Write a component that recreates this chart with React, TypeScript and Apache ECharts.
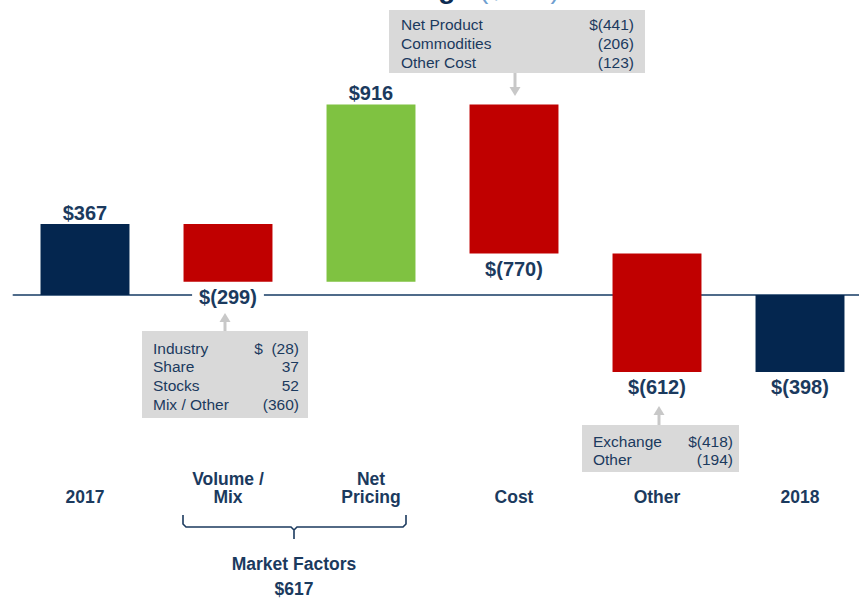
import React, { useEffect, useRef } from "react";
import * as echarts from "echarts";

// ---------- data ----------
const categories = ["2017", "Volume /\nMix", "Net\nPricing", "Cost", "Other", "2018"];
const values = [367, -299, 916, -770, -612, -398];
const kinds = ["total", "delta", "delta", "delta", "delta", "total"];
const barColors = ["#04264f", "#c00000", "#7fc241", "#c00000", "#c00000", "#04264f"];

const costItems = ["Net Product", "Commodities", "Other Cost"];
const costValues = [-441, -206, -123];

const volumeItems = ["Industry", "Share", "Stocks", "Mix / Other"];
const volumeValues = [-28, 37, 52, -360];

const otherItems = ["Exchange", "Other"];
const otherValues = [-418, -194];

const groupLabel = "Market Factors";
const groupValue = 617;

const titleMain = "EBIT Bridge";
const titleUnit = "($MM)";

// ---------- helpers ----------
const NAVY = "#1b3a5e";
const FONT = '"Liberation Sans", Arial, sans-serif';

const money = (v: number) => (v < 0 ? `$(${Math.abs(v)})` : `$${v}`);
const plain = (v: number) => (v < 0 ? `(${Math.abs(v)})` : `${v}`);

function calloutBox(
  x: number, y: number, w: number, h: number,
  names: string[], vals: number[], firstFmt: (v: number) => string,
  lineY0: number, lineStep: number, textLeft: number, textRight: number
) {
  const children: any[] = [
    { type: "rect", shape: { x, y, width: w, height: h }, style: { fill: "#d9d9d9" } },
  ];
  names.forEach((n, i) => {
    const cy = lineY0 + i * lineStep;
    children.push({
      type: "text", x: textLeft, y: cy,
      style: { text: n, fill: NAVY, font: `15.5px ${FONT}`, align: "left", verticalAlign: "middle", textAlign: "left", textVerticalAlign: "middle" },
    });
    children.push({
      type: "text", x: textRight, y: cy,
      style: { text: i === 0 ? firstFmt(vals[i]) : plain(vals[i]), fill: NAVY, font: `15.5px ${FONT}`, align: "right", verticalAlign: "middle", textAlign: "right", textVerticalAlign: "middle" },
    });
  });
  return children;
}

function arrow(x: number, yFrom: number, yTo: number) {
  const dir = yTo > yFrom ? 1 : -1;
  const headLen = 9;
  return [
    { type: "line", shape: { x1: x, y1: yFrom, x2: x, y2: yTo - dir * headLen }, style: { stroke: "#c8c8c8", lineWidth: 3 } },
    { type: "polygon", shape: { points: [[x - 5.5, yTo - dir * headLen], [x + 5.5, yTo - dir * headLen], [x, yTo]] }, style: { fill: "#c8c8c8" } },
  ];
}

export default function App() {
  const ref = useRef<HTMLDivElement>(null);

  useEffect(() => {
    if (!ref.current) return;
    document.body.style.overflow = "hidden";
    const chart = echarts.init(ref.current, undefined, { renderer: "svg" });

    // waterfall spans
    let run = 0;
    const spans = values.map((v, i) => {
      let s: number, e: number;
      if (kinds[i] === "total") { s = 0; e = v; run = v; }
      else { s = run; e = run + v; run = e; }
      return [i, s, e, v];
    });
    const labelAbove = values.map((v) => v > 0);

    const graphic: any[] = [
      {
        type: "text", x: 471, y: -12,
        style: { text: titleMain, fill: "#0d2b52", font: `bold 28px ${FONT}`, align: "right", verticalAlign: "middle", textAlign: "right", textVerticalAlign: "middle" },
      },
      {
        type: "text", x: 479, y: -12,
        style: { text: titleUnit, fill: "#6f9fd0", font: `28px ${FONT}`, align: "left", verticalAlign: "middle", textAlign: "left", textVerticalAlign: "middle" },
      },
      ...calloutBox(389, 10, 256, 63, costItems, costValues, money, 24, 19, 401, 634),
      ...arrow(515, 73, 96),
      ...calloutBox(142, 331, 166, 87, volumeItems, volumeValues, (v) => `$  ${plain(v)}`, 348, 18.7, 153, 299),
      ...arrow(225, 331, 313),
      ...calloutBox(582, 425, 157, 47, otherItems, otherValues, money, 441, 18.5, 593, 733),
      ...arrow(659, 425, 406),
      {
        type: "polyline",
        shape: { points: [[183, 515], [183, 524], [186, 527], [291, 527], [294, 530], [294, 539], [294, 530], [297, 527], [403, 527], [406, 524], [406, 515]] },
        style: { stroke: NAVY, lineWidth: 1.6, fill: null },
      },
      {
        type: "text", x: 294, y: 564,
        style: { text: groupLabel, fill: NAVY, font: `bold 17.5px ${FONT}`, align: "center", verticalAlign: "middle", textAlign: "center", textVerticalAlign: "middle" },
      },
      {
        type: "text", x: 294, y: 589,
        style: { text: money(groupValue), fill: NAVY, font: `bold 17.5px ${FONT}`, align: "center", verticalAlign: "middle", textAlign: "center", textVerticalAlign: "middle" },
      },
    ];

    chart.setOption({
      animation: false,
      grid: { left: 13.5, top: 82, width: 858, height: 426 },
      xAxis: [
        {
          type: "category", data: categories,
          axisLine: { show: true, onZero: true, lineStyle: { color: "#4f6b8a", width: 2 } },
          axisTick: { show: false }, axisLabel: { show: false }, splitLine: { show: false },
        },
        {
          type: "category", data: categories, position: "bottom",
          axisLine: { show: false, onZero: false }, axisTick: { show: false },
          axisLabel: {
            show: true, interval: 0, margin: -2, verticalAlign: "bottom",
            color: NAVY, fontFamily: FONT, fontWeight: "bold", fontSize: 17.5, lineHeight: 18,
          },
        },
      ],
      yAxis: { type: "value", min: -1100, max: 1100, show: false, splitLine: { show: false } },
      series: [
        {
          type: "custom",
          xAxisIndex: 0,
          data: spans,
          renderItem: (params: any, api: any) => {
            const i = api.value(0);
            const a = api.coord([i, api.value(1)]);
            const b = api.coord([i, api.value(2)]);
            const w = api.size([1, 0])[0] * 0.622;
            const top = Math.min(a[1], b[1]);
            const bot = Math.max(a[1], b[1]);
            const above = labelAbove[params.dataIndex];
            return {
              type: "group",
              children: [
                { type: "rect", shape: { x: a[0] - w / 2, y: top, width: w, height: bot - top }, style: { fill: barColors[params.dataIndex] } },
                {
                  type: "text", x: a[0], y: above ? top - 1 : bot + 5,
                  style: {
                    text: money(api.value(3)), fill: NAVY,
                    fontFamily: FONT, fontSize: 20, fontWeight: "bold",
                    align: "center", verticalAlign: above ? "bottom" : "top",
                    backgroundColor: above ? undefined : "#ffffff",
                    padding: above ? 0 : [0, 7, 0, 7],
                  },
                },
              ],
            };
          },
        },
      ],
      graphic,
    });

    return () => chart.dispose();
  }, []);

  return <div ref={ref} style={{ position: "fixed", left: 0, top: 0, width: 872, height: 598, background: "#fff" }} />;
}
